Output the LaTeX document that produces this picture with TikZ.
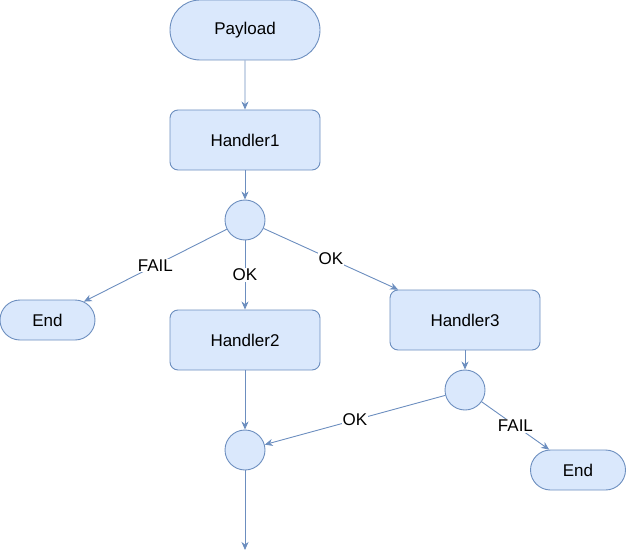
\documentclass[tikz,border=0pt]{standalone}
\usepackage{fontspec}
\setmainfont{Liberation Sans}
\usetikzlibrary{shapes.misc,arrows.meta}
\definecolor{bfill}{HTML}{DAE8FC}
\definecolor{bline}{HTML}{6C8EBF}
\begin{document}
\begin{tikzpicture}[x=1pt,y=-1pt,
  base/.style={draw=bline,fill=bfill,line width=0.9pt,font=\fontsize{17}{20}\selectfont,inner sep=0pt},
  proc/.style={base,rectangle,rounded corners=8pt,minimum width=150pt,minimum height=60pt},
  term/.style={base,rounded rectangle,minimum height=40pt},
  junc/.style={base,circle,minimum size=40pt},
  conn/.style={draw=bline,line width=0.9pt,-{Stealth[length=8pt,width=7pt,inset=2.5pt]}},
  lab/.style={fill=white,inner sep=1pt,font=\fontsize{17}{20}\selectfont,text=black}]
\useasboundingbox (0,0) rectangle (626,559);
\node[base,rounded rectangle,minimum width=150pt,minimum height=60pt] (payload) at (245,30) {Payload};
\node[proc] (h1) at (245,140) {Handler1};
\node[junc] (c1) at (245,220) {};
\node[term,minimum width=95pt] (end1) at (47.5,320) {End};
\node[proc] (h2) at (245,340) {Handler2};
\node[proc] (h3) at (465,320) {Handler3};
\node[junc] (c2) at (465,390) {};
\node[junc] (c3) at (245,450) {};
\node[term,minimum width=95pt] (end2) at (578,470) {End};
\coordinate (out) at (245,550);
\draw[conn] (payload) -- (h1);
\draw[conn] (h1) -- (c1);
\draw[conn] (c1) -- node[lab]{FAIL} (end1);
\draw[conn] (c1) -- node[lab]{OK} (h2);
\draw[conn] (c1) -- node[lab]{OK} (h3);
\draw[conn] (h3) -- (c2);
\draw[conn] (c2) -- node[lab]{OK} (c3);
\draw[conn] (c2) -- node[lab]{FAIL} (end2);
\draw[conn] (h2) -- (c3);
\draw[conn] (c3) -- (out);
\end{tikzpicture}
\end{document}
